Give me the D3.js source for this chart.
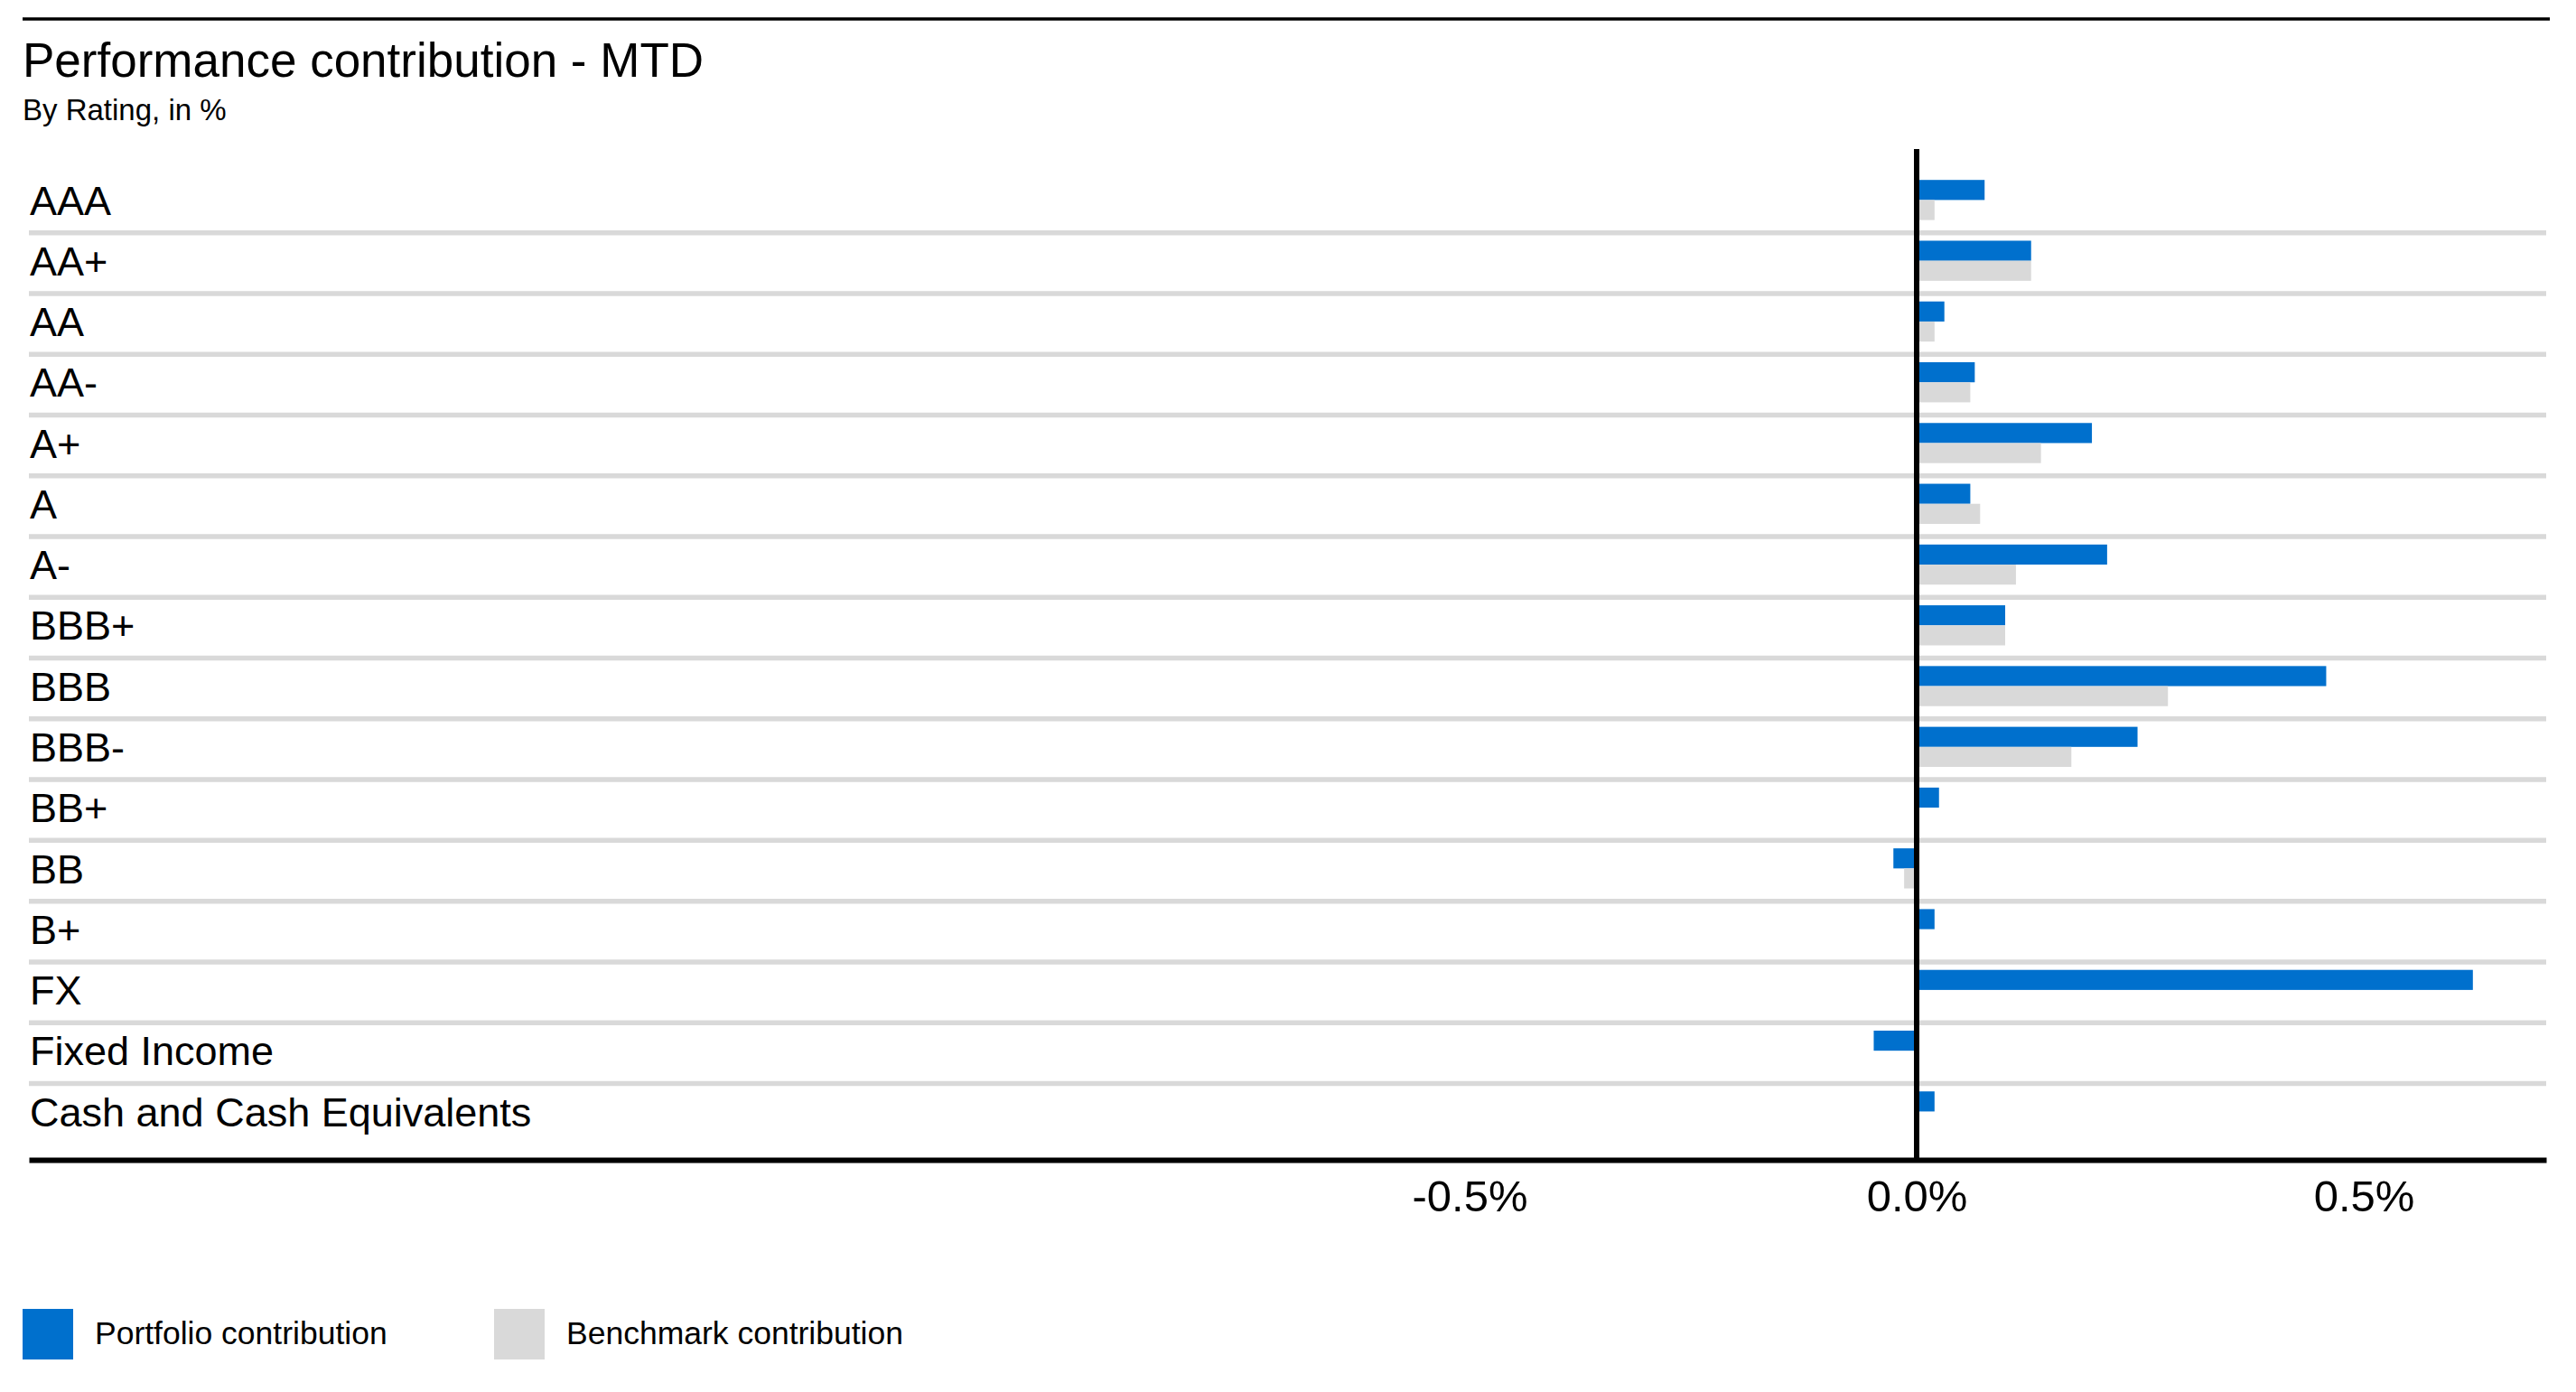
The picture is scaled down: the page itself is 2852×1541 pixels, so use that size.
<!DOCTYPE html>
<html>
<head>
<meta charset="utf-8">
<script src="https://cdn.jsdelivr.net/npm/d3@7"></script>
<style>
  body { margin: 0; background: #fff; }
  #chart { width: 2852px; height: 1541px; }
  text { font-family: "Liberation Sans", Arial, sans-serif; fill: #000; }
</style>
</head>
<body>
<div id="chart"></div>
<script>

// ratings, top to bottom
var ratings = ["AAA", "AA+", "AA", "AA-", "A+", "A", "A-", "BBB+", "BBB", "BBB-",
               "BB+", "BB", "B+", "FX", "Fixed Income", "Cash and Cash Equivalents"];

// contribution in %
var portfolio = [0.076, 0.128, 0.031, 0.065, 0.196, 0.060, 0.213, 0.099, 0.458, 0.247,
                 0.025, -0.026, 0.020, 0.622, -0.048, 0.020];
var benchmark = [0.020, 0.128, 0.020, 0.060, 0.139, 0.071, 0.111, 0.099, 0.281, 0.173,
                 0, -0.014, 0, 0, 0, 0];

var seriesNames = ["Portfolio contribution", "Benchmark contribution"];
var tickValues = [-0.5, 0, 0.5];

function Chart(){
    var self = this;
    self.init();
};

Chart.prototype.init = function(){
    var self = this;
    self.width = 2852;
    self.height = 1541;
    self.colors = ["#0070cd", "#d9d9d9"];

    self.svg = d3.select("#chart").append("svg")
        .attr("width", self.width)
        .attr("height", self.height);

    self.x = d3.scaleLinear().domain([-2.111, 0.704]).range([32, 2819]);
    self.y = d3.scaleBand().domain(ratings).range([190.4, 1266.7]);
    self.sub = d3.scaleBand().domain(seriesNames).range([8.8, 53.2]);
    self.axisY = 1284;
};

Chart.prototype.update = function(){
    var self = this;
    var svg = self.svg;
    var x = self.x, y = self.y, sub = self.sub;

    // header
    svg.append("line")
        .attr("x1", 25).attr("x2", 2823)
        .attr("y1", 21).attr("y2", 21)
        .attr("stroke", "#000").attr("stroke-width", 3.4);

    svg.append("text")
        .attr("x", 25).attr("y", 85)
        .style("font-size", "53px")
        .text("Performance contribution - MTD");

    svg.append("text")
        .attr("x", 25).attr("y", 133)
        .style("font-size", "33px")
        .text("By Rating, in %");

    // row separators
    svg.append("g").selectAll("line")
        .data(ratings.slice(1))
        .enter().append("line")
        .attr("x1", x.range()[0]).attr("x2", x.range()[1])
        .attr("y1", function(d){ return y(d); })
        .attr("y2", function(d){ return y(d); })
        .attr("stroke", "#d9d9d9")
        .attr("stroke-width", 5.5);

    var rows = ratings.map(function(r, i){
        return {rating: r, values: [portfolio[i], benchmark[i]]};
    });

    var rowGroup = svg.append("g").selectAll("g")
        .data(rows)
        .enter().append("g")
        .attr("transform", function(d){ return "translate(0," + y(d.rating) + ")"; });

    rowGroup.selectAll("rect")
        .data(function(d){
            return d.values.map(function(v, j){ return {name: seriesNames[j], value: v, i: j}; });
        })
        .enter().append("rect")
        .attr("x", function(d){ return Math.min(x(0), x(d.value)); })
        .attr("width", function(d){ return Math.abs(x(d.value) - x(0)); })
        .attr("y", function(d){ return sub(d.name); })
        .attr("height", sub.bandwidth())
        .attr("fill", function(d){ return self.colors[d.i]; });

    rowGroup.append("text")
        .attr("x", 33)
        .attr("y", (sub.range()[0] + sub.range()[1]) / 2)
        .attr("dy", "0.36em")
        .style("font-size", "45px")
        .text(function(d){ return d.rating; });

    // zero line
    svg.append("line")
        .attr("x1", x(0)).attr("x2", x(0))
        .attr("y1", 165).attr("y2", self.axisY)
        .attr("stroke", "#000").attr("stroke-width", 6);

    // bottom axis
    var locale = d3.formatLocale({decimal: ".", thousands: ",", grouping: [3], currency: ["", ""], minus: "-"});
    var fmt = locale.format(".1f");
    var xAxis = d3.axisBottom(x)
        .tickValues(tickValues)
        .tickSize(0)
        .tickSizeOuter(0)
        .tickPadding(22)
        .tickFormat(function(d){ return fmt(d) + "%"; });

    var axisG = svg.append("g")
        .attr("transform", "translate(0," + self.axisY + ")")
        .call(xAxis);
    axisG.select(".domain").attr("stroke", "#000").attr("stroke-width", 6);
    axisG.selectAll("text")
        .style("font-family", "'Liberation Sans', Arial, sans-serif")
        .style("font-size", "49px")
        .attr("fill", "#000");

    // legend
    var legendX = [25, 547];
    var legend = svg.append("g").selectAll("g")
        .data(seriesNames)
        .enter().append("g")
        .attr("transform", function(d, i){ return "translate(" + legendX[i] + ",1449)"; });

    legend.append("rect")
        .attr("width", 56).attr("height", 56)
        .attr("fill", function(d, i){ return self.colors[i]; });

    legend.append("text")
        .attr("x", 80).attr("y", 39)
        .style("font-size", "35.5px")
        .text(function(d){ return d; });
};

var chart = new Chart();
chart.update();

</script>
</body>
</html>
